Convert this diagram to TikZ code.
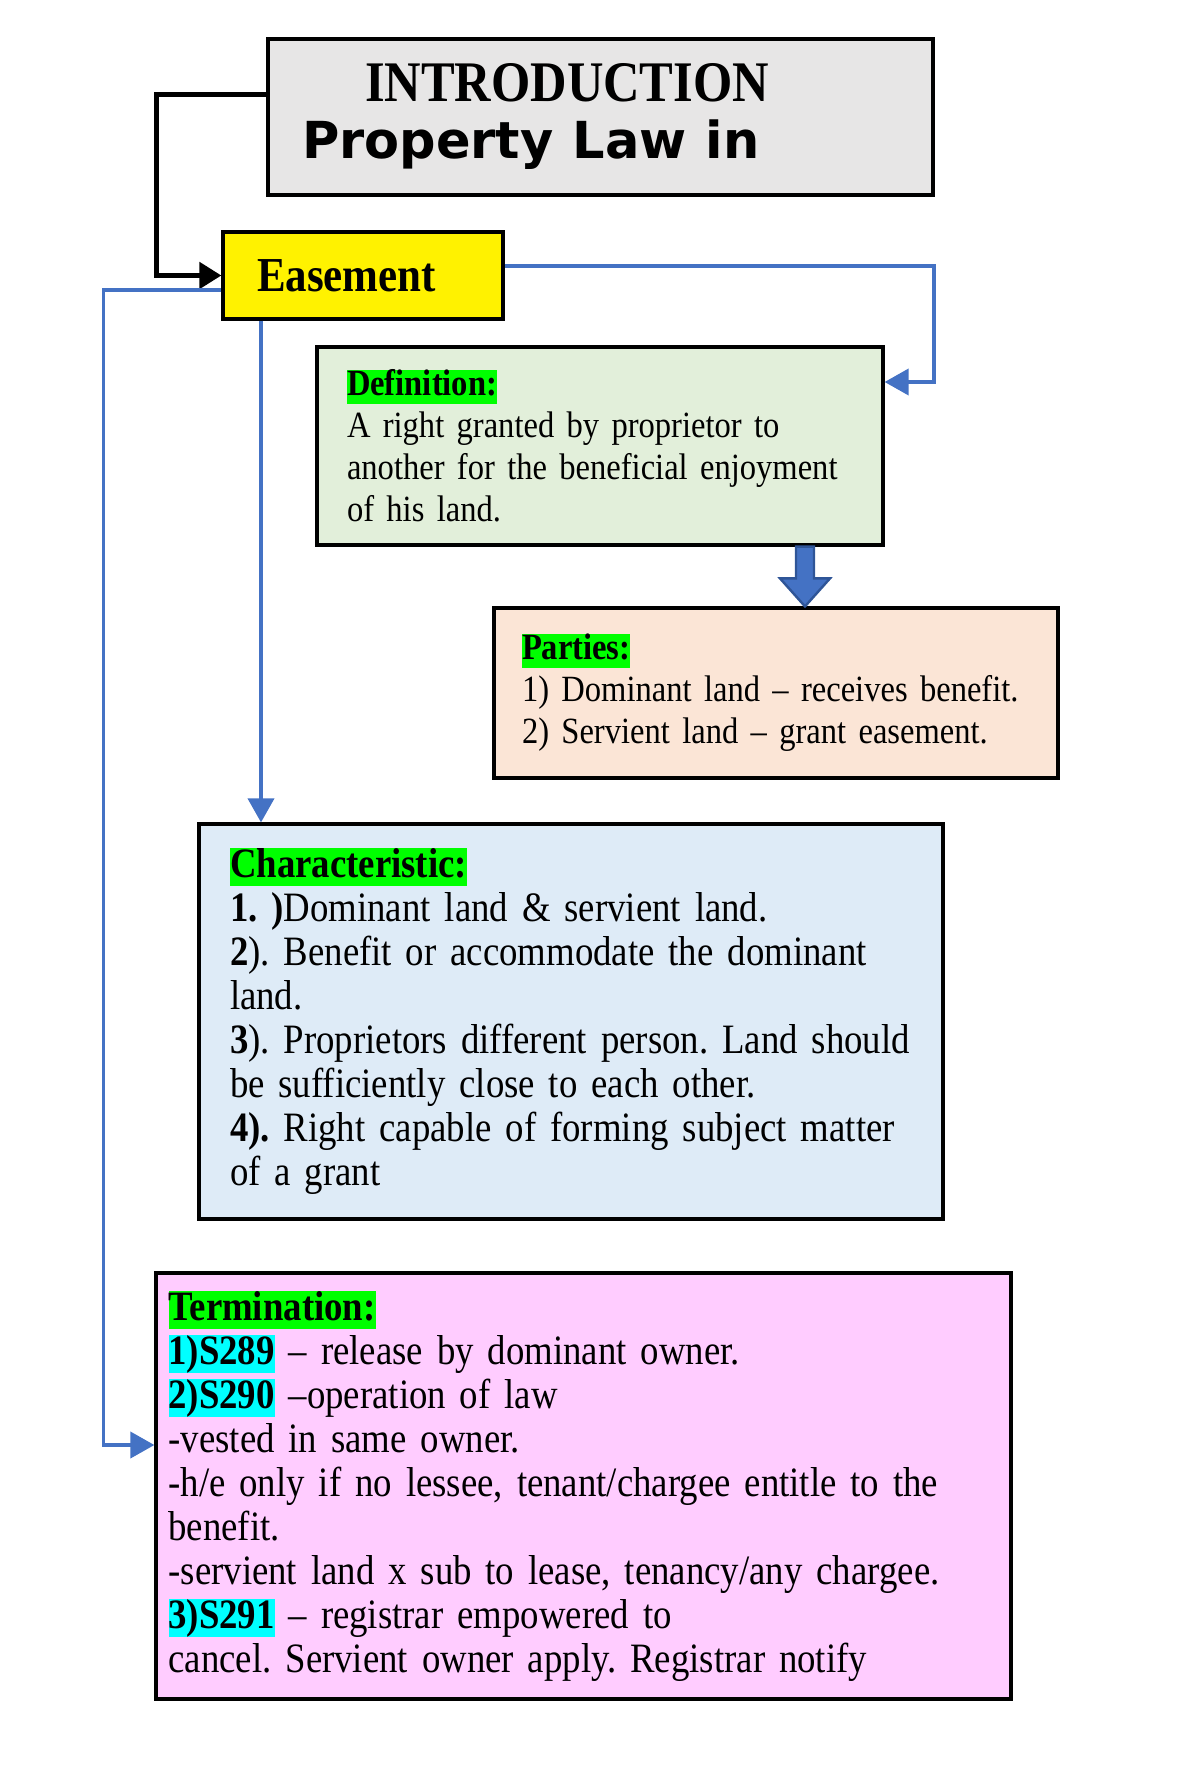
\documentclass[tikz,border=0pt]{standalone}
\usepackage{fontspec}
\setmainfont{Liberation Serif}[FakeStretch=0.88]
\newfontfamily\propfont{DejaVu Sans}
\usetikzlibrary{arrows.meta}

\definecolor{introgray}{HTML}{E7E6E6}
\definecolor{defgreen}{HTML}{E2EFDA}
\definecolor{partypeach}{HTML}{FBE5D6}
\definecolor{charblue}{HTML}{DEEBF7}
\definecolor{termpink}{HTML}{FFCCFF}
\definecolor{linkblue}{HTML}{4472C4}
\definecolor{arrowdark}{HTML}{2F5597}
\definecolor{hlgreen}{HTML}{00FF00}
\definecolor{hlcyan}{HTML}{00FFFF}

\newcommand{\hlgr}[1]{{\setlength{\fboxsep}{0pt}\colorbox{hlgreen}{\rule[-0.21em]{0pt}{0.79em}\textbf{#1}}}}
\newcommand{\hlcy}[1]{{\setlength{\fboxsep}{0pt}\colorbox{hlcyan}{\rule[-0.21em]{0pt}{0.79em}\textbf{#1}}}}

\begin{document}
\frenchspacing
\hyphenpenalty=10000
\begin{tikzpicture}[x=0.5pt,y=-0.5pt,
  box/.style={draw=black, line width=1.6pt, rectangle, align=left, inner ysep=0pt},
  bodytext/.style={font=\fontsize{20.9}{22}\selectfont},
  smalltext/.style={font=\fontsize{18.5}{21}\selectfont},
  bluelink/.style={linkblue, line width=1.9pt, -{Triangle[length=12pt,width=13pt]}},
  blacklink/.style={black, line width=2.5pt, -{Triangle[length=11pt,width=13pt]}}]
\useasboundingbox (0,0) rectangle (1200,1781);

% boxes
\node[box, fill=introgray, minimum width=332.5pt, minimum height=78pt, text width=298.5pt, inner xsep=17pt, font=\fontsize{28.7}{28.5}\selectfont] (intro) at (600.5,117)
  {\hspace*{31.5pt}\textbf{INTRODUCTION}\\ {\propfont\fontsize{25.5}{28.5}\selectfont\bfseries Property Law in}};
\node[box, fill=yellow, minimum width=140pt, minimum height=43.5pt, text width=106pt, inner xsep=17pt, font=\fontsize{24.4}{25}\selectfont\bfseries] (easement) at (363,275.5) {Easement};
\node[box, fill=defgreen, smalltext, minimum width=283pt, minimum height=99pt, text width=253pt, inner xsep=15pt] (def) at (600,446)
  {\hlgr{Definition:}\\ A right granted by proprietor to\\ another for the beneficial enjoyment\\ of his land.};
\node[box, fill=partypeach, smalltext, minimum width=282pt, minimum height=85pt, text width=254pt, inner xsep=14pt] (parties) at (776,693)
  {\hlgr{Parties:}\\ 1) Dominant land -- receives benefit.\\ 2) Servient land -- grant easement.};
\node[box, fill=charblue, bodytext, minimum width=372pt, minimum height=197.5pt, text width=341pt, inner xsep=15.5pt] (charac) at (571,1021.5)
  {\hlgr{Characteristic:}\\ \textbf{1. )}Dominant land \& servient land.\\ \textbf{2}). Benefit or accommodate the dominant\\ land.\\ \textbf{3}). Proprietors different person. Land should\\ be sufficiently close to each other.\\ \textbf{4).} Right capable of forming subject matter\\ of a grant};
\node[box, fill=termpink, bodytext, minimum width=427.5pt, minimum height=213pt, text width=415pt, inner xsep=6.25pt] (term) at (583.5,1486)
  {\hlgr{Termination:}\\ \hlcy{1)S289} -- release by dominant owner.\\ \hlcy{2)S290} --operation of law\\ -vested in same owner.\\ -h/e only if no lessee, tenant/chargee entitle to the\\ benefit.\\ -servient land x sub to lease, tenancy/any chargee.\\ \hlcy{3)S291} -- registrar empowered to\\ cancel. Servient owner apply. Registrar notify};

% connectors
\draw[blacklink] ([yshift=11pt]intro.west) -- ++(-110,0) |- (easement.west);
\draw[bluelink] ([yshift=4.75pt]easement.east) -- ++(429,0) |- ([yshift=32pt]def.east);
\coordinate (edrop) at ([xshift=-51pt]easement.south);
\draw[bluelink] (edrop) -- (edrop |- charac.north);
\draw[bluelink] ([yshift=-7.25pt]easement.west) -- ++(-118,0) |- ([yshift=20.5pt]term.west);

% block arrow
\coordinate (bt) at ([xshift=102.5pt]def.south);
\coordinate (bh) at (bt |- parties.north);
\filldraw[fill=linkblue, draw=arrowdark, line width=1.2pt] ([xshift=-4.5pt]bt) -- ([xshift=-4.5pt,yshift=14pt]bh) -- ([xshift=-12.5pt,yshift=14pt]bh) -- (bh)
  -- ([xshift=12.5pt,yshift=14pt]bh) -- ([xshift=4.5pt,yshift=14pt]bh) -- ([xshift=4.5pt]bt) -- cycle;
\end{tikzpicture}
\end{document}
